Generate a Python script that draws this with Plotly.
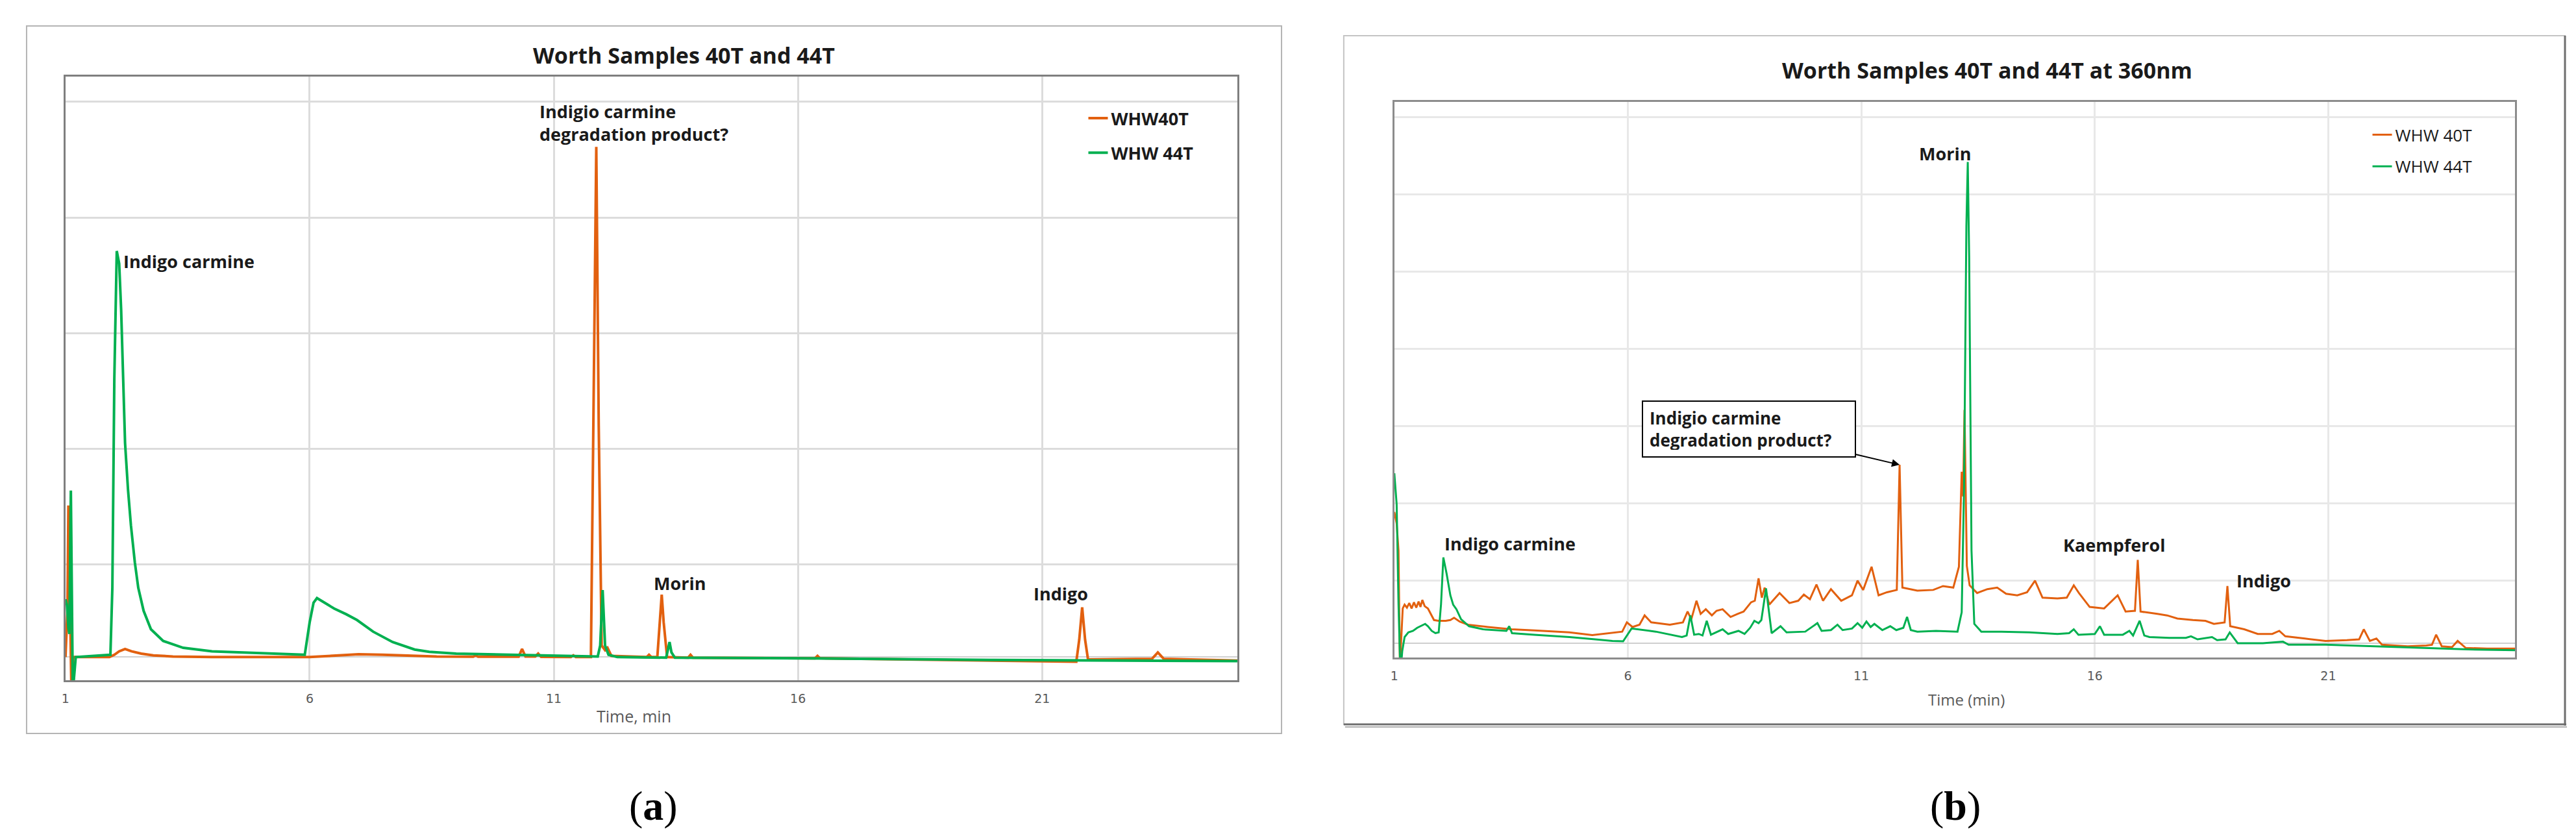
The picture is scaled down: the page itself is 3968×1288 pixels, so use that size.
import plotly.graph_objects as go

# ---------------------------------------------------------------- data
# Panel (a): Worth Samples 40T and 44T   (time in min, relative intensity)
time_a_40T = [1.00, 1.04, 1.06, 1.09, 1.12, 1.16, 1.90, 2.00, 2.10, 2.22,
              2.35, 2.55, 2.80, 3.20, 4.00, 6.00, 6.50, 7.00, 7.50, 8.00,
              8.60, 9.35, 9.40, 9.45, 10.28, 10.35, 10.42, 10.62, 10.68, 10.74,
              11.35, 11.40, 11.45, 11.76, 11.82, 11.87, 11.92, 11.98, 12.05, 12.10,
              12.18, 12.90, 12.95, 13.00, 13.12, 13.17, 13.21, 13.25, 13.32, 13.75,
              13.80, 13.85, 16.35, 16.40, 16.45, 19.00, 21.70, 21.76, 21.82, 21.88,
              21.94, 23.25, 23.37, 23.49, 25.00]
int_a_40T = [0.00, 0.40, 1.31, 0.30, -0.25, 0.00, 0.00, 0.02, 0.05, 0.07,
             0.05, 0.03, 0.015, 0.005, 0.00, 0.00, 0.015, 0.025, 0.02, 0.012,
             0.005, 0.003, 0.015, 0.003, 0.003, 0.07, 0.005, 0.005, 0.03, 0.002,
             0.00, 0.015, 0.00, 0.00, 2.20, 4.41, 2.00, 0.10, 0.06, 0.08,
             0.01, 0.00, 0.02, 0.00, 0.00, 0.30, 0.54, 0.30, 0.00, -0.005,
             0.02, -0.005, -0.01, 0.01, -0.01, -0.025, -0.04, 0.15, 0.43, 0.15,
             -0.02, -0.015, 0.04, -0.015, -0.03]

time_a_44T = [1.00, 1.03, 1.06, 1.08, 1.11, 1.13, 1.15, 1.21, 1.50, 1.92,
              1.96, 2.00, 2.05, 2.10, 2.14, 2.17, 2.22, 2.28, 2.34, 2.42,
              2.49, 2.60, 2.75, 3.00, 3.41, 4.00, 5.19, 5.90, 6.00, 6.08,
              6.15, 6.30, 6.50, 6.75, 6.97, 7.30, 7.70, 8.15, 8.45, 9.00,
              10.00, 11.00, 11.90, 11.95, 12.00, 12.05, 12.12, 12.30, 13.30, 13.33,
              13.37, 13.41, 13.48, 16.00, 20.00, 25.00]
int_a_44T = [0.50, 0.45, 0.25, 0.20, 1.44, 0.60, -0.30, 0.00, 0.01, 0.02,
             0.60, 2.40, 3.51, 3.40, 3.00, 2.57, 1.85, 1.45, 1.14, 0.82,
             0.60, 0.40, 0.24, 0.14, 0.08, 0.05, 0.03, 0.02, 0.30, 0.47,
             0.51, 0.47, 0.42, 0.37, 0.32, 0.22, 0.13, 0.065, 0.045, 0.03,
             0.02, 0.01, 0.005, 0.10, 0.58, 0.10, 0.02, 0.00, -0.005, 0.05,
             0.13, 0.04, -0.005, -0.01, -0.025, -0.035]

# Panel (b): Worth Samples 40T and 44T at 360nm
time_b_40T = [1.00, 1.05, 1.09, 1.12, 1.16, 1.18, 1.22, 1.27, 1.32, 1.37,
              1.42, 1.47, 1.52, 1.56, 1.60, 1.65, 1.72, 1.78, 1.85, 1.95,
              2.10, 2.20, 2.28, 2.40, 2.58, 3.00, 3.51, 4.00, 4.75, 5.24,
              5.60, 5.88, 5.98, 6.10, 6.25, 6.36, 6.50, 6.90, 7.18, 7.28,
              7.36, 7.47, 7.56, 7.67, 7.80, 7.90, 8.03, 8.20, 8.35, 8.48,
              8.64, 8.72, 8.80, 8.87, 8.93, 9.03, 9.25, 9.46, 9.65, 9.77,
              9.90, 10.04, 10.18, 10.35, 10.57, 10.80, 10.92, 11.04, 11.22, 11.37,
              11.55, 11.76, 11.82, 11.88, 12.20, 12.54, 12.75, 12.97, 13.09, 13.15,
              13.18, 13.21, 13.26, 13.32, 13.40, 13.48, 13.70, 13.91, 14.10, 14.34,
              14.55, 14.72, 14.88, 15.20, 15.40, 15.55, 15.66, 15.89, 16.20, 16.49,
              16.66, 16.86, 16.92, 16.98, 17.34, 17.55, 17.77, 18.10, 18.37, 18.55,
              18.78, 18.84, 18.90, 19.20, 19.49, 19.80, 19.95, 20.08, 20.50, 20.94,
              21.40, 21.66, 21.76, 21.89, 22.03, 22.15, 22.70, 23.10, 23.22, 23.31,
              23.43, 23.65, 23.77, 23.94, 24.40, 25.00]
int_b_40T = [1.70, 1.55, 1.20, -0.30, 0.20, 0.45, 0.50, 0.46, 0.52, 0.45,
             0.53, 0.46, 0.54, 0.47, 0.56, 0.48, 0.45, 0.38, 0.30, 0.29,
             0.29, 0.30, 0.33, 0.28, 0.24, 0.21, 0.18, 0.165, 0.14, 0.105,
             0.13, 0.15, 0.27, 0.21, 0.24, 0.36, 0.27, 0.24, 0.27, 0.41,
             0.31, 0.55, 0.38, 0.44, 0.36, 0.42, 0.44, 0.34, 0.38, 0.41,
             0.53, 0.55, 0.84, 0.59, 0.72, 0.50, 0.65, 0.52, 0.55, 0.63,
             0.57, 0.76, 0.55, 0.70, 0.55, 0.62, 0.81, 0.69, 0.99, 0.62,
             0.66, 0.69, 2.31, 0.72, 0.68, 0.69, 0.74, 0.72, 0.99, 2.22,
             1.90, 3.02, 1.00, 0.75, 0.70, 0.65, 0.70, 0.72, 0.64, 0.62,
             0.66, 0.81, 0.59, 0.58, 0.59, 0.75, 0.65, 0.47, 0.45, 0.62,
             0.41, 0.42, 1.08, 0.41, 0.38, 0.36, 0.32, 0.30, 0.29, 0.25,
             0.27, 0.74, 0.22, 0.18, 0.12, 0.12, 0.16, 0.09, 0.06, 0.03,
             0.04, 0.05, 0.18, 0.03, 0.06, -0.02, -0.04, -0.03, -0.02, 0.11,
             -0.04, -0.05, 0.03, -0.06, -0.07, -0.07]

time_b_44T = [1.00, 1.05, 1.09, 1.13, 1.17, 1.22, 1.30, 1.40, 1.49, 1.58,
              1.66, 1.72, 1.80, 1.88, 1.95, 2.00, 2.05, 2.12, 2.20, 2.26,
              2.33, 2.43, 2.60, 2.90, 3.30, 3.40, 3.46, 3.52, 4.00, 4.75,
              5.30, 5.67, 5.90, 6.08, 6.60, 7.16, 7.26, 7.34, 7.42, 7.52,
              7.60, 7.69, 7.78, 8.03, 8.15, 8.37, 8.50, 8.62, 8.71, 8.80,
              8.86, 8.96, 9.08, 9.27, 9.40, 9.80, 10.06, 10.15, 10.35, 10.49,
              10.60, 10.80, 10.92, 11.02, 11.11, 11.20, 11.28, 11.45, 11.62, 11.75,
              11.90, 11.98, 12.06, 12.20, 12.60, 13.06, 13.15, 13.20, 13.25, 13.28,
              13.31, 13.36, 13.42, 13.57, 14.00, 14.60, 15.20, 15.45, 15.55, 15.65,
              16.00, 16.11, 16.20, 16.60, 16.74, 16.82, 16.96, 17.06, 17.17, 17.60,
              17.95, 18.06, 18.20, 18.51, 18.62, 18.80, 18.89, 19.06, 19.60, 20.03,
              20.15, 20.94, 22.00, 23.00, 24.00, 25.00]
int_b_44T = [2.20, 1.80, 0.50, -0.40, -0.10, 0.08, 0.14, 0.16, 0.20, 0.23,
             0.25, 0.22, 0.16, 0.13, 0.14, 0.50, 1.11, 0.90, 0.62, 0.50,
             0.44, 0.31, 0.22, 0.18, 0.16, 0.16, 0.22, 0.13, 0.11, 0.08,
             0.05, 0.03, 0.025, 0.19, 0.15, 0.08, 0.10, 0.36, 0.11, 0.12,
             0.10, 0.29, 0.11, 0.18, 0.12, 0.16, 0.12, 0.20, 0.29, 0.26,
             0.30, 0.71, 0.13, 0.22, 0.14, 0.15, 0.26, 0.16, 0.17, 0.24,
             0.17, 0.19, 0.26, 0.20, 0.28, 0.21, 0.25, 0.17, 0.22, 0.17,
             0.20, 0.34, 0.17, 0.15, 0.16, 0.15, 0.40, 2.00, 5.40, 6.23,
             5.00, 1.20, 0.25, 0.15, 0.15, 0.14, 0.12, 0.13, 0.18, 0.11,
             0.12, 0.22, 0.11, 0.11, 0.16, 0.10, 0.29, 0.10, 0.08, 0.07,
             0.07, 0.09, 0.05, 0.08, 0.04, 0.05, 0.14, 0.00, 0.00, 0.02,
             -0.02, -0.02, -0.04, -0.06, -0.08, -0.09]

names_a = ["WHW40T", "WHW 44T"]
names_b = ["WHW 40T", "WHW 44T"]
x_tick_values = [1, 6, 11, 16, 21]
chart_titles = ["Worth Samples 40T and 44T", "Worth Samples 40T and 44T at 360nm"]
x_titles = ["Time, min", "Time (min)"]
panel_letters = ["a", "b"]
peak_labels_a = ["Indigo carmine", "Indigio carmine<br>degradation product?", "Morin", "Indigo"]
peak_labels_b = ["Indigo carmine", "Morin", "Kaempferol", "Indigo"]
box_label_b = "Indigio carmine<br>degradation product?"
box_target_b = (11.82, 2.31)

# label anchor points (data coordinates, left edge / vertical middle)
label_pos_a = [(2.16, 3.42), (10.68, 4.62), (13.02, 0.64), (20.80, 0.55)]
label_pos_b = [(2.05, 1.29), (12.21, 6.34), (15.29, 1.27), (19.00, 0.81)]

# ---------------------------------------------------------------- style / layout
W, H = 3968, 1288
ORANGE = "#E2600F"
GREEN = "#00B050"
FONT = "Open Sans"
TICK_FONT = "DejaVu Sans"
TXT = "#1a1a1a"
GRAY_TXT = "#595959"


def fx(p):
    return p / W


def fy(p):
    return 1 - p / H


# plot-area pixel boxes
A_X0, A_X1, A_Y0, A_Y1 = 87, 1895, 110, 1040
B_X0, B_X1, B_Y0, B_Y1 = 2137, 3866, 149, 1005
A_UNIT, A_MIN = 178.25, -0.2
B_UNIT, B_MIN = 119.0, -0.185
a_range = [A_MIN, A_MIN + (A_Y1 - A_Y0) / A_UNIT]
b_range = [B_MIN, B_MIN + (B_Y1 - B_Y0) / B_UNIT]
a_grid = [A_MIN + k for k in range(1, 6)]
b_grid = [B_MIN + k for k in range(1, 8)]

fig = go.Figure()
fig.add_trace(go.Scatter(x=time_a_40T, y=int_a_40T, name=names_a[0], mode="lines",
                         line=dict(color=ORANGE, width=4), xaxis="x", yaxis="y",
                         legend="legend", legendgroup="a1"))
fig.add_trace(go.Scatter(x=time_a_44T, y=int_a_44T, name=names_a[1], mode="lines",
                         line=dict(color=GREEN, width=4), xaxis="x", yaxis="y",
                         legend="legend", legendgroup="a2"))
fig.add_trace(go.Scatter(x=time_b_40T, y=int_b_40T, name=names_b[0], mode="lines",
                         line=dict(color=ORANGE, width=3), xaxis="x2", yaxis="y2",
                         legend="legend2", legendgroup="b1"))
fig.add_trace(go.Scatter(x=time_b_44T, y=int_b_44T, name=names_b[1], mode="lines",
                         line=dict(color=GREEN, width=3), xaxis="x2", yaxis="y2",
                         legend="legend2", legendgroup="b2"))

common_x = dict(range=[1, 25], tickvals=x_tick_values, showgrid=True, gridwidth=3,
                showline=True, mirror=True, ticks="", zeroline=False,
                tickfont=dict(family=TICK_FONT, size=19, color=GRAY_TXT),
                ticklabelstandoff=9, fixedrange=True)
common_y = dict(showticklabels=False, showgrid=True, gridwidth=3, showline=True,
                mirror=True, ticks="", zeroline=True, zerolinewidth=2, fixedrange=True)

fig.update_layout(
    width=W, height=H, margin=dict(l=0, r=0, t=0, b=0),
    paper_bgcolor="white", plot_bgcolor="white",
    xaxis=dict(domain=[fx(A_X0), fx(A_X1)], anchor="y", gridcolor="#dcdcdc",
               linecolor="#7f7f7f", linewidth=3, **common_x),
    yaxis=dict(domain=[fy(A_Y1), fy(A_Y0)], anchor="x", range=a_range, tickvals=a_grid,
               gridcolor="#dcdcdc", zerolinecolor="#d0d0d0", linecolor="#7f7f7f",
               linewidth=3, **common_y),
    xaxis2=dict(domain=[fx(B_X0), fx(B_X1)], anchor="y2", gridcolor="#e8e8e8",
                linecolor="#8c8c8c", linewidth=3, **common_x),
    yaxis2=dict(domain=[fy(B_Y1), fy(B_Y0)], anchor="x2", range=b_range, tickvals=b_grid,
                gridcolor="#e8e8e8", zerolinecolor="#cfcfcf", linecolor="#8c8c8c",
                linewidth=3, **common_y),
    legend=dict(x=fx(1660), y=fy(150), xanchor="left", yanchor="top",
                bgcolor="rgba(0,0,0,0)", tracegroupgap=15,
                font=dict(family=FONT, size=27, color=TXT, weight="bold")),
    legend2=dict(x=fx(3641), y=fy(176), xanchor="left", yanchor="top",
                 bgcolor="rgba(0,0,0,0)", tracegroupgap=12,
                 font=dict(family=FONT, size=26, color=TXT)),
    showlegend=True,
)

# outer frames
shapes = [
    dict(type="rect", xref="paper", yref="paper", x0=fx(27), x1=fx(1963), y0=fy(1122), y1=fy(32),
         line=dict(color="#b4b4b4", width=2), layer="below"),
    dict(type="rect", xref="paper", yref="paper", x0=fx(2059), x1=fx(3943), y0=fy(1108), y1=fy(47),
         line=dict(color="#c4c4c4", width=2), layer="below"),
    dict(type="line", xref="paper", yref="paper", x0=fx(3943), x1=fx(3943), y0=fy(1110), y1=fy(47),
         line=dict(color="#6e6e6e", width=3), layer="below"),
    dict(type="line", xref="paper", yref="paper", x0=fx(2059), x1=fx(3945), y0=fy(1108), y1=fy(1108),
         line=dict(color="#6e6e6e", width=3), layer="below"),
    dict(type="line", xref="paper", yref="paper", x0=fx(2061), x1=fx(3946), y0=fy(1112), y1=fy(1112),
         line=dict(color="#b0b0b0", width=2), layer="below"),
]
fig.update_layout(shapes=shapes)

ann = []
# chart titles
ann.append(dict(text=chart_titles[0], x=fx(1041), y=fy(77), xref="paper", yref="paper",
                showarrow=False, xanchor="center", yanchor="middle",
                font=dict(family=FONT, size=34, color=TXT, weight="bold")))
ann.append(dict(text=chart_titles[1], x=fx(3052), y=fy(100), xref="paper", yref="paper",
                showarrow=False, xanchor="center", yanchor="middle",
                font=dict(family=FONT, size=34, color=TXT, weight="bold")))
# axis titles
ann.append(dict(text=x_titles[0], x=fx(964), y=fy(1095), xref="paper", yref="paper",
                showarrow=False, xanchor="center", yanchor="middle",
                font=dict(family=FONT, size=25, color=GRAY_TXT)))
ann.append(dict(text=x_titles[1], x=fx(3020), y=fy(1069), xref="paper", yref="paper",
                showarrow=False, xanchor="center", yanchor="middle",
                font=dict(family=FONT, size=24, color=GRAY_TXT)))
# peak labels
for t, (lx, ly) in zip(peak_labels_a, label_pos_a):
    ann.append(dict(text=t, x=lx, y=ly, xref="x", yref="y", showarrow=False,
                    xanchor="left", yanchor="middle", align="left",
                    font=dict(family=FONT, size=27, color=TXT, weight="bold")))
for t, (lx, ly) in zip(peak_labels_b, label_pos_b):
    ann.append(dict(text=t, x=lx, y=ly, xref="x2", yref="y2", showarrow=False,
                    xanchor="left", yanchor="middle", align="left",
                    font=dict(family=FONT, size=27, color=TXT, weight="bold")))
# boxed callout with arrow
ann.append(dict(text=box_label_b, x=box_target_b[0], y=box_target_b[1], xref="x2", yref="y2",
                showarrow=True, ax=-232, ay=-55, axref="pixel", ayref="pixel",
                arrowhead=2, arrowsize=1.2, arrowwidth=2, arrowcolor="#000000", standoff=0,
                align="left", width=306, height=64, borderpad=10,
                bordercolor="#000000", borderwidth=2, bgcolor="white",
                font=dict(family=FONT, size=26, color=TXT, weight="bold")))
# panel letters
ann.append(dict(text="(<b>%s</b>)" % panel_letters[0], x=fx(994), y=fy(1233), xref="paper",
                yref="paper", showarrow=False, xanchor="center", yanchor="middle",
                font=dict(family="Liberation Serif", size=64, color="#000000")))
ann.append(dict(text="(<b>%s</b>)" % panel_letters[1], x=fx(3003), y=fy(1233), xref="paper",
                yref="paper", showarrow=False, xanchor="center", yanchor="middle",
                font=dict(family="Liberation Serif", size=64, color="#000000")))
fig.update_layout(annotations=ann)

fig.write_html("out.html")
